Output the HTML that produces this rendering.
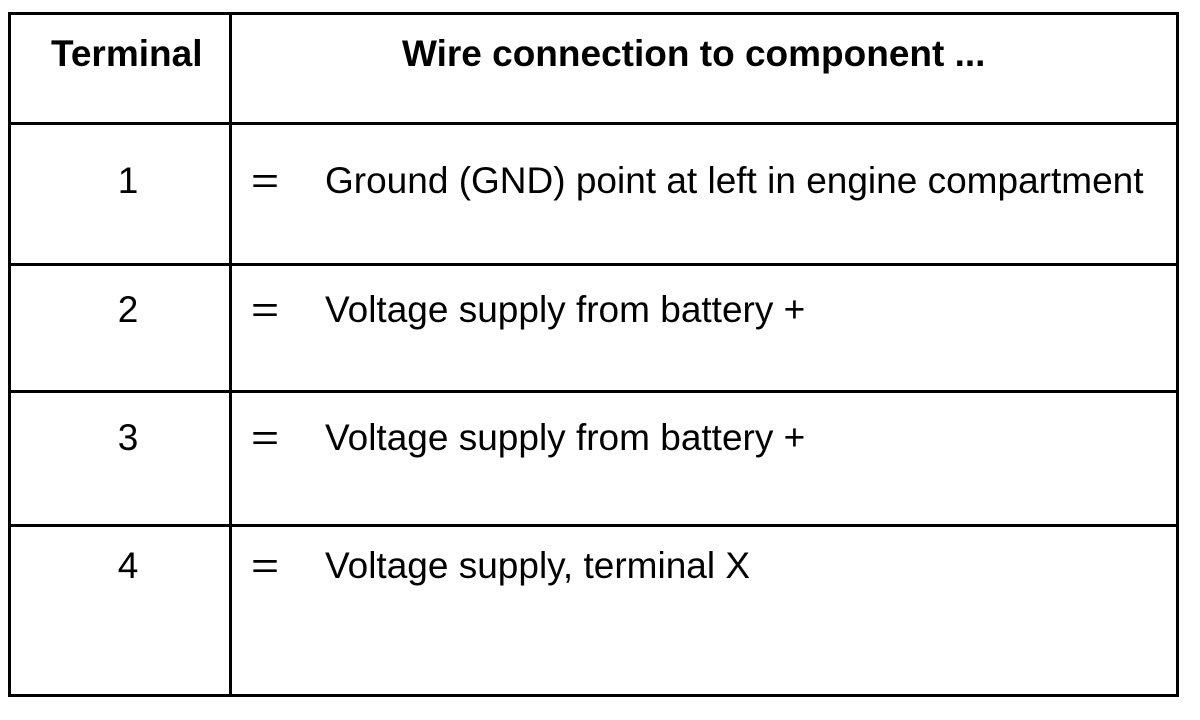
<!DOCTYPE html>
<html><head><meta charset="utf-8"><style>
html,body{margin:0;padding:0;background:#fff;width:1200px;height:720px;overflow:hidden;position:relative}
.l{position:absolute;background:#000}
.t{position:absolute;font-family:"Liberation Sans",Arial,sans-serif;font-size:37px;line-height:37px;color:#000;white-space:nowrap}
.b{font-weight:bold}
.c{width:120px;text-align:center}
.eq{transform:scaleX(1.3);transform-origin:left}
</style></head><body>
<div class="l" style="left:8px;top:12px;width:1171px;height:3px"></div>
<div class="l" style="left:8px;top:694px;width:1171px;height:3px"></div>
<div class="l" style="left:8px;top:12px;width:3px;height:685px"></div>
<div class="l" style="left:1176px;top:12px;width:3px;height:685px"></div>
<div class="l" style="left:229px;top:12px;width:3px;height:685px"></div>
<div class="l" style="left:8px;top:122px;width:1171px;height:3px"></div>
<div class="l" style="left:8px;top:263px;width:1171px;height:3px"></div>
<div class="l" style="left:8px;top:390px;width:1171px;height:3px"></div>
<div class="l" style="left:8px;top:524px;width:1171px;height:3px"></div>

<div class="t b" style="left:51px;top:35px">Terminal</div>
<div class="t b" style="left:402px;top:35px">Wire connection to component ...</div>

<div class="t c" style="left:68px;top:162px">1</div>
<div class="t eq" style="left:251px;top:162px">=</div>
<div class="t" style="left:325px;top:162px">Ground (GND) point at left in engine compartment</div>

<div class="t c" style="left:68px;top:291px">2</div>
<div class="t eq" style="left:251px;top:291px">=</div>
<div class="t" style="left:325px;top:291px">Voltage supply from battery +</div>

<div class="t c" style="left:68px;top:419px">3</div>
<div class="t eq" style="left:251px;top:419px">=</div>
<div class="t" style="left:325px;top:419px">Voltage supply from battery +</div>

<div class="t c" style="left:68px;top:547px">4</div>
<div class="t eq" style="left:251px;top:547px">=</div>
<div class="t" style="left:325px;top:547px">Voltage supply, terminal X</div>
</body></html>
